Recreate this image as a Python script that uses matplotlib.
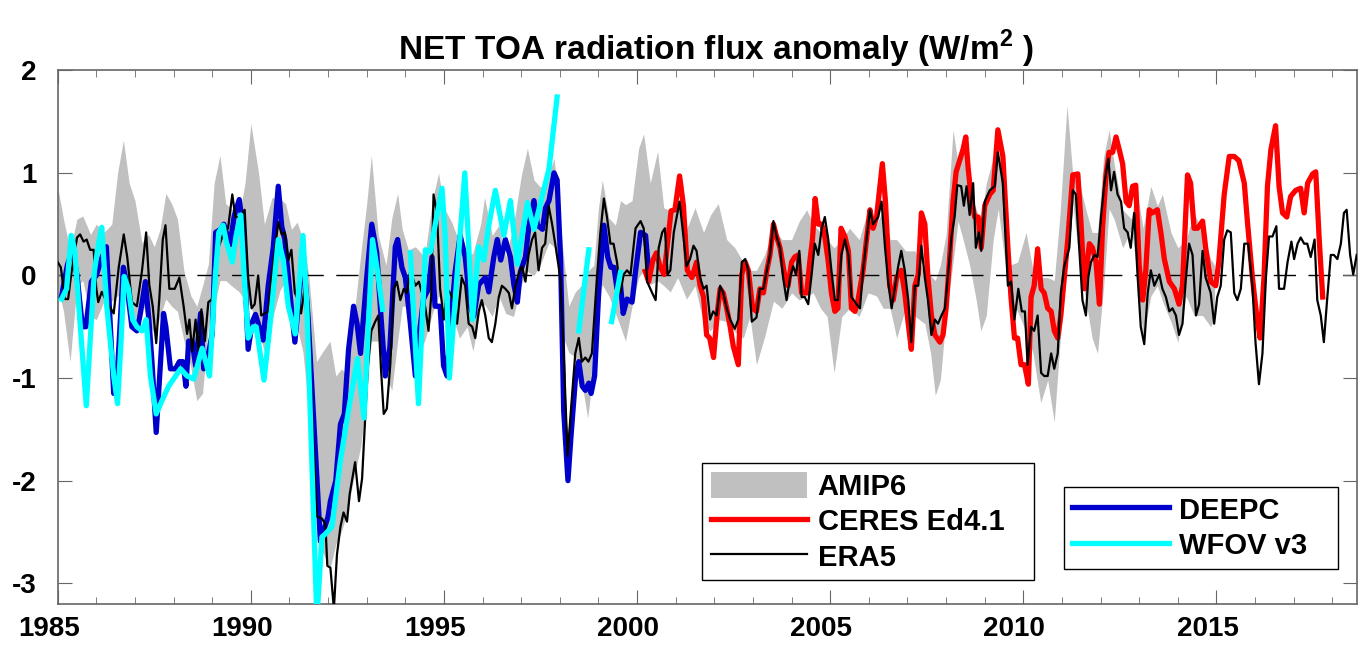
import numpy as np
import matplotlib
matplotlib.use("Agg")
import matplotlib.pyplot as plt
import matplotlib.transforms as mtransforms
from matplotlib.ticker import MultipleLocator

plt.rcParams['font.family'] = ['Liberation Sans', 'DejaVu Sans']
plt.rcParams['font.weight'] = 'bold'
plt.rcParams['axes.unicode_minus'] = False
plt.rcParams['mathtext.fontset'] = 'custom'
plt.rcParams['mathtext.bf'] = 'Liberation Sans:bold'
plt.rcParams['mathtext.rm'] = 'Liberation Sans:bold'

# ERA5 (black)
era5_t = [1985.0, 1985.08, 1985.19, 1985.27, 1985.36, 1985.5, 1985.58, 1985.67, 1985.75, 1985.84,
          1985.93, 1986.0, 1986.05, 1986.14, 1986.27, 1986.45, 1986.58, 1986.71, 1986.8, 1986.92,
          1987.05, 1987.18, 1987.29, 1987.37, 1987.46, 1987.55, 1987.63, 1987.72, 1987.79, 1987.89,
          1988.03, 1988.15, 1988.26, 1988.35, 1988.41, 1988.48, 1988.57, 1988.65, 1988.72, 1988.81,
          1988.9, 1989.0, 1989.09, 1989.17, 1989.3, 1989.41, 1989.52, 1989.6, 1989.72, 1989.84,
          1989.93, 1990.02, 1990.1, 1990.19, 1990.27, 1990.36, 1990.45, 1990.53, 1990.62, 1990.71,
          1990.8, 1990.88, 1990.97, 1991.05, 1991.14, 1991.22, 1991.3, 1991.39, 1991.48, 1991.58,
          1991.71, 1991.84, 1991.93, 1991.98, 1992.06, 1992.15, 1992.23, 1992.32, 1992.4, 1992.49,
          1992.56, 1992.7, 1992.8, 1992.88, 1992.96, 1993.03, 1993.12, 1993.22, 1993.3, 1993.37,
          1993.44, 1993.52, 1993.61, 1993.7, 1993.78, 1993.87, 1993.96, 1994.04, 1994.13, 1994.26,
          1994.35, 1994.43, 1994.52, 1994.6, 1994.67, 1994.73, 1994.82, 1994.9, 1995.0, 1995.08,
          1995.16, 1995.25, 1995.34, 1995.46, 1995.55, 1995.64, 1995.73, 1995.81, 1995.9, 1995.98,
          1996.07, 1996.16, 1996.24, 1996.33, 1996.42, 1996.5, 1996.59, 1996.68, 1996.76, 1996.85,
          1996.93, 1997.02, 1997.11, 1997.19, 1997.28, 1997.36, 1997.45, 1997.54, 1997.62, 1997.71,
          1997.8, 1997.88, 1998.01, 1998.1, 1998.2, 1998.31, 1998.4, 1998.49, 1998.57, 1998.66,
          1998.74, 1998.83, 1998.96, 1999.05, 1999.14, 1999.22, 1999.31, 1999.39, 1999.48, 1999.57,
          1999.65, 1999.74, 1999.83, 1999.96, 2000.09, 2000.17, 2000.26, 2000.39, 2000.48, 2000.56,
          2000.65, 2000.72, 2000.79, 2000.86, 2000.95, 2001.1, 2001.2, 2001.28, 2001.37, 2001.46,
          2001.54, 2001.63, 2001.72, 2001.8, 2001.89, 2001.97, 2002.06, 2002.15, 2002.23, 2002.32,
          2002.41, 2002.53, 2002.62, 2002.71, 2002.8, 2002.88, 2002.97, 2003.09, 2003.18, 2003.27,
          2003.36, 2003.44, 2003.53, 2003.61, 2003.7, 2003.78, 2003.87, 2003.96, 2004.04, 2004.11,
          2004.2, 2004.26, 2004.34, 2004.43, 2004.51, 2004.6, 2004.69, 2004.78, 2004.86, 2004.95,
          2005.03, 2005.12, 2005.2, 2005.29, 2005.38, 2005.47, 2005.55, 2005.68, 2005.77, 2005.85,
          2005.94, 2006.03, 2006.11, 2006.24, 2006.33, 2006.42, 2006.5, 2006.59, 2006.67, 2006.76,
          2006.84, 2006.93, 2007.02, 2007.1, 2007.19, 2007.28, 2007.36, 2007.45, 2007.53, 2007.62,
          2007.71, 2007.79, 2007.88, 2007.97, 2008.05, 2008.14, 2008.22, 2008.29, 2008.39, 2008.46,
          2008.53, 2008.61, 2008.7, 2008.77, 2008.85, 2008.91, 2009.0, 2009.13, 2009.26, 2009.34,
          2009.47, 2009.6, 2009.68, 2009.77, 2009.87, 2009.96, 2010.04, 2010.11, 2010.2, 2010.28,
          2010.37, 2010.46, 2010.54, 2010.63, 2010.72, 2010.8, 2010.89, 2010.97, 2011.06, 2011.19,
          2011.28, 2011.36, 2011.45, 2011.53, 2011.62, 2011.68, 2011.75, 2011.84, 2011.92, 2012.01,
          2012.1, 2012.2, 2012.27, 2012.35, 2012.44, 2012.53, 2012.61, 2012.7, 2012.78, 2012.87,
          2012.96, 2013.04, 2013.13, 2013.22, 2013.3, 2013.39, 2013.52, 2013.6, 2013.69, 2013.78,
          2013.86, 2013.95, 2014.03, 2014.12, 2014.21, 2014.29, 2014.38, 2014.47, 2014.55, 2014.64,
          2014.72, 2014.85, 2014.94, 2015.02, 2015.11, 2015.2, 2015.28, 2015.37, 2015.46, 2015.54,
          2015.63, 2015.72, 2015.82, 2015.93, 2016.01, 2016.1, 2016.19, 2016.28, 2016.36, 2016.45,
          2016.55, 2016.62, 2016.75, 2016.84, 2016.94, 2017.01, 2017.1, 2017.18, 2017.27, 2017.35,
          2017.44, 2017.54, 2017.61, 2017.7, 2017.78, 2017.87, 2017.96, 2018.04, 2018.13, 2018.22,
          2018.3, 2018.37, 2018.46, 2018.54, 2018.63]
era5_v = [0.13, 0.08, -0.23, -0.23, 0.04, 0.37, 0.40, 0.33, 0.35, 0.25,
          0.25, -0.13, -0.26, -0.16, -0.26, -0.37, 0.08, 0.40, 0.18, -0.26,
          -0.30, 0.04, 0.42, -0.09, -0.30, -0.66, -0.23, 0.35, 0.49, -0.13,
          -0.13, -0.02, -0.30, -0.57, -0.43, -0.74, -0.43, -0.74, -0.33, -0.64,
          -0.26, -0.23, 0.04, 0.28, 0.42, 0.46, 0.79, 0.57, 0.57, 0.64,
          -0.02, -0.32, -0.28, 0.0, -0.39, -0.37, -0.35, -0.02, 0.24, 0.52,
          0.40, 0.42, 0.15, 0.25, -0.17, -0.24, -0.37, -0.13, -0.24, -1.3,
          -2.35, -2.37, -2.42, -2.83, -2.85, -3.25, -2.72, -2.45, -2.31, -2.40,
          -2.13, -1.82, -2.20, -1.98, -1.39, -0.88, -0.54, -0.45, -0.39, -0.91,
          -1.35, -1.30, -0.87, -0.13, -0.06, -0.24, -0.13, -0.17, 0.05, -0.10,
          -0.06, -0.17, -0.32, -0.54, -0.20, 0.79, 0.61, -0.13, -0.43, -0.13,
          -0.17, -0.24, -0.47, -0.02, -0.10, -0.47, -0.50, -0.61, -0.35, -0.24,
          -0.39, -0.61, -0.65, -0.47, -0.21, -0.10, -0.13, -0.17, -0.32, -0.10,
          0.01, 0.09, -0.06, 0.20, 0.35, 0.42, 0.05, 0.27, 0.31, 0.68,
          0.50, 0.31, -0.02, -0.76, -1.76, -1.20, -0.76, -0.61, -0.84, -0.80,
          -0.84, -0.76, -0.02, 0.42, 0.75, 0.57, 0.31, 0.31, 0.13, -0.17,
          0.01, 0.05, 0.01, 0.46, 0.53, 0.46, -0.06, -0.17, -0.24, 0.27,
          0.42, 0.46, 0.01, 0.05, 0.42, 0.72, 0.38, 0.09, 0.16, 0.29,
          0.24, -0.02, -0.13, -0.10, -0.43, -0.35, -0.39, -0.10, -0.17, -0.32,
          -0.43, -0.52, -0.43, 0.13, 0.16, 0.05, -0.45, -0.41, -0.13, -0.13,
          0.05, 0.20, 0.53, 0.38, 0.27, -0.02, -0.24, -0.02, 0.09, 0.01,
          0.24, -0.21, -0.21, -0.28, -0.02, 0.31, 0.20, 0.46, 0.57, 0.35,
          0.05, -0.24, -0.24, 0.20, 0.35, 0.20, -0.21, -0.28, -0.32, 0.05,
          0.35, 0.64, 0.50, 0.57, 0.72, 0.27, -0.06, -0.32, -0.13, 0.09,
          0.24, 0.05, -0.24, -0.65, -0.10, -0.10, 0.29, -0.02, -0.24, -0.58,
          -0.43, -0.47, -0.39, -0.32, 0.01, 0.38, 0.57, 0.88, 0.87, 0.68,
          0.87, 0.59, 0.90, 0.27, 0.42, 0.24, 0.72, 0.83, 0.87, 1.20,
          0.90, -0.10, -0.06, -0.43, -0.13, -0.35, -0.35, -0.87, -0.50, -0.54,
          -0.39, -0.95, -0.98, -0.98, -0.76, -0.91, -0.76, -0.17, 0.09, 0.27,
          0.83, 0.79, 0.24, -0.24, -0.39, -0.02, 0.13, 0.20, 0.18, 0.57,
          0.90, 1.14, 0.83, 1.01, 0.79, 0.72, 0.46, 0.42, 0.27, 0.61,
          -0.02, -0.50, -0.67, -0.17, 0.05, -0.10, 0.01, -0.13, -0.21, -0.35,
          -0.32, -0.39, -0.58, -0.47, -0.02, 0.31, 0.20, -0.39, -0.28, 0.24,
          -0.02, -0.17, -0.47, -0.21, -0.10, 0.35, 0.44, 0.42, -0.17, -0.24,
          -0.13, 0.31, 0.31, -0.10, -0.65, -1.06, -0.76, -0.02, 0.38, 0.38,
          0.48, -0.13, -0.13, 0.13, 0.33, 0.16, 0.31, 0.37, 0.31, 0.31,
          0.18, 0.35, -0.24, -0.39, -0.65, -0.21, 0.20, 0.20, 0.16, 0.31,
          0.61, 0.64, 0.20, 0.01, 0.20]

# CERES Ed4.1 (red)
ceres_t = [2000.21, 2000.3, 2000.41, 2000.5, 2000.6, 2000.7, 2000.88, 2000.98, 2001.1, 2001.2,
           2001.3, 2001.42, 2001.54, 2001.63, 2001.72, 2001.8, 2001.88, 2001.98, 2002.07, 2002.15,
           2002.23, 2002.32, 2002.41, 2002.49, 2002.62, 2002.71, 2002.8, 2002.88, 2002.99, 2003.09,
           2003.18, 2003.27, 2003.36, 2003.44, 2003.53, 2003.61, 2003.7, 2003.83, 2003.91, 2004.0,
           2004.08, 2004.17, 2004.26, 2004.39, 2004.47, 2004.54, 2004.61, 2004.69, 2004.78, 2004.86,
           2004.95, 2005.03, 2005.12, 2005.2, 2005.28, 2005.38, 2005.47, 2005.55, 2005.64, 2005.72,
           2005.85, 2005.94, 2006.03, 2006.11, 2006.2, 2006.35, 2006.43, 2006.54, 2006.63, 2006.72,
           2006.84, 2006.93, 2007.02, 2007.1, 2007.19, 2007.28, 2007.36, 2007.45, 2007.53, 2007.62,
           2007.71, 2007.84, 2007.92, 2008.0, 2008.09, 2008.18, 2008.26, 2008.35, 2008.44, 2008.51,
           2008.57, 2008.66, 2008.74, 2008.83, 2008.91, 2009.0, 2009.13, 2009.22, 2009.34, 2009.47,
           2009.6, 2009.68, 2009.77, 2009.85, 2009.94, 2010.03, 2010.13, 2010.2, 2010.28, 2010.37,
           2010.46, 2010.54, 2010.63, 2010.72, 2010.8, 2010.89, 2010.97, 2011.06, 2011.15, 2011.28,
           2011.41, 2011.49, 2011.58, 2011.71, 2011.79, 2011.88, 2011.97, 2012.05, 2012.14, 2012.22,
           2012.31, 2012.4, 2012.48, 2012.57, 2012.66, 2012.74, 2012.83, 2012.91, 2013.0, 2013.09,
           2013.17, 2013.26, 2013.34, 2013.47, 2013.56, 2013.65, 2013.78, 2013.91, 2014.03, 2014.12,
           2014.25, 2014.33, 2014.42, 2014.51, 2014.64, 2014.72, 2014.85, 2014.98, 2015.06, 2015.2,
           2015.33, 2015.46, 2015.58, 2015.72, 2015.8, 2015.93, 2016.04, 2016.13, 2016.23, 2016.32,
           2016.41, 2016.53, 2016.62, 2016.71, 2016.82, 2016.92, 2017.05, 2017.18, 2017.27, 2017.36,
           2017.49, 2017.57, 2017.66, 2017.75]
ceres_v = [0.04, -0.06, 0.15, 0.22, 0.08, 0.01, 0.63, 0.64, 0.97, 0.68,
           0.05, -0.02, 0.13, -0.10, -0.21, -0.58, -0.61, -0.80, -0.39, -0.13,
           -0.17, -0.32, -0.50, -0.69, -0.87, 0.01, 0.13, 0.05, -0.32, -0.35,
           -0.13, -0.17, 0.05, 0.20, 0.50, 0.38, 0.27, -0.02, -0.10, 0.13,
           0.18, 0.20, -0.17, -0.17, 0.13, 0.35, 0.75, 0.50, 0.50, 0.38,
           0.13, -0.17, -0.35, -0.32, 0.46, 0.38, 0.24, -0.32, -0.35, -0.24,
           0.05, 0.35, 0.64, 0.46, 0.57, 1.09, 0.72, -0.10, -0.24, -0.02,
           0.05, -0.17, -0.47, -0.72, -0.10, 0.01, 0.61, 0.50, -0.02, -0.39,
           -0.58, -0.65, -0.58, -0.32, 0.16, 0.72, 1.01, 1.12, 1.23, 1.35,
           1.05, 0.72, 0.57, 0.57, 0.27, 0.68, 0.79, 0.83, 1.42, 1.16,
           0.27, -0.21, -0.61, -0.61, -0.87, -0.87, -1.06, -0.21, -0.10, 0.26,
           -0.13, -0.17, -0.32, -0.35, -0.54, -0.61, -0.39, -0.02, 0.35, 0.98,
           0.99, 0.53, -0.13, 0.31, 0.27, 0.13, -0.28, 0.46, 0.98, 1.20,
           1.20, 1.35, 1.23, 1.09, 0.72, 0.68, 0.87, 0.88, 0.09, -0.24,
           0.05, 0.64, 0.61, 0.64, 0.42, 0.16, -0.06, -0.13, -0.28, -0.10,
           0.98, 0.90, 0.46, 0.46, 0.53, 0.27, -0.06, -0.10, 0.13, 0.79,
           1.16, 1.16, 1.12, 0.90, 0.53, -0.02, -0.39, -0.61, -0.02, 0.87,
           1.23, 1.46, 0.87, 0.61, 0.57, 0.77, 0.83, 0.85, 0.61, 0.90,
           0.99, 1.01, 0.35, -0.21]

# DEEPC (blue)
deepc_t = [1985.1, 1985.25, 1985.38, 1985.5, 1985.64, 1985.73, 1985.87, 1986.0, 1986.12, 1986.26,
           1986.45, 1986.53, 1986.7, 1986.79, 1986.92, 1987.05, 1987.14, 1987.27, 1987.36, 1987.44,
           1987.55, 1987.64, 1987.74, 1987.8, 1987.92, 1988.05, 1988.15, 1988.24, 1988.32, 1988.39,
           1988.48, 1988.57, 1988.7, 1988.78, 1988.9, 1989.0, 1989.09, 1989.22, 1989.3, 1989.46,
           1989.57, 1989.7, 1989.8, 1989.93, 1990.04, 1990.12, 1990.2, 1990.32, 1990.45, 1990.58,
           1990.71, 1990.8, 1990.88, 1991.02, 1991.14, 1991.25, 1991.35, 1991.48, 1991.8, 1992.0,
           1992.06, 1992.2, 1992.32, 1992.42, 1992.53, 1992.66, 1992.75, 1992.84, 1993.0, 1993.13,
           1993.26, 1993.36, 1993.48, 1993.6, 1993.74, 1993.8, 1993.91, 1994.0, 1994.13, 1994.26,
           1994.34, 1994.47, 1994.6, 1994.69, 1994.77, 1994.9, 1994.99, 1995.08, 1995.2, 1995.29,
           1995.42, 1995.55, 1995.68, 1995.77, 1995.9, 1996.07, 1996.16, 1996.29, 1996.38, 1996.47,
           1996.59, 1996.72, 1996.81, 1996.9, 1996.98, 1997.11, 1997.2, 1997.33, 1997.42, 1997.55,
           1997.63, 1997.72, 1997.85, 1997.93, 1998.02, 1998.1, 1998.21, 1998.29, 1998.41, 1998.49,
           1998.58, 1998.66, 1998.75, 1998.81, 1998.9, 1999.01, 1999.14, 1999.24, 1999.32, 1999.4,
           1999.48, 1999.57, 1999.64, 1999.74, 1999.87, 1999.96, 2000.09, 2000.22, 2000.3]
deepc_v = [-0.20, 0.10, 0.25, 0.0, -0.50, -0.50, -0.06, 0.0, 0.15, 0.28,
           -1.15, -1.05, 0.08, -0.09, -0.50, -0.54, -0.37, -0.06, -0.43, -0.84,
           -1.53, -0.98, -0.37, -0.50, -0.91, -0.91, -0.84, -0.84, -1.08, -0.64,
           -0.64, -0.88, -0.37, -0.91, -0.77, -0.57, 0.42, 0.45, 0.50, 0.30,
           0.58, 0.74, 0.46, -0.72, -0.45, -0.38, -0.48, -0.63, -0.10, 0.27,
           0.87, 0.48, 0.35, -0.20, -0.65, -0.20, 0.24, -0.40, -2.59, -2.35,
           -2.20, -2.00, -1.45, -1.35, -0.72, -0.30, -0.47, -0.76, -0.02, 0.50,
           0.22, -0.35, -0.98, -0.70, 0.28, 0.35, 0.08, -0.02, -0.47, -0.98,
           -0.64, -0.23, -0.13, 0.18, -0.30, -0.30, -0.88, -0.98, -0.35, 0.04,
           0.39, 0.18, -0.30, -0.40, -0.09, -0.02, -0.16, 0.18, 0.35, 0.15,
           0.35, 0.18, -0.09, -0.26, 0.04, 0.18, 0.49, 0.73, 0.49, 0.45,
           0.66, 0.73, 1.0, 0.93, 0.15, -1.32, -2.0, -1.56, -0.98, -0.84,
           -1.08, -1.12, -1.05, -1.15, -0.98, -0.13, 0.49, 0.18, 0.08, 0.08,
           -0.13, -0.09, -0.37, -0.23, -0.26, 0.04, 0.42, 0.39, 0.04]

# WFOV v3 (cyan), gaps as nan
wfov_t = [1985.1, 1985.23, 1985.35, 1985.44, 1985.58, 1985.74, 1985.84, 1985.95, 1986.06, 1986.14,
          1986.27, 1986.45, 1986.55, 1986.64, 1986.72, 1986.83, 1986.94, 1987.05, 1987.18, 1987.29,
          1987.4, 1987.55, 1987.7, 1987.87, 1988.18, 1988.35, 1988.52, 1988.74, 1988.93, 1989.09,
          1989.17, 1989.28, 1989.37, 1989.52, 1989.62, 1989.74, 1989.82, 1989.93, 1990.06, 1990.14,
          1990.34, 1990.5, 1990.71, 1990.84, 1990.97, 1991.15, 1991.35, 1991.45, 1991.71, 1991.84,
          1991.93, 1992.1, 1992.32, 1992.54, 1992.76, 1992.93, 1993.15, 1993.28, 1993.41, 1993.7,
          1994.13, 1994.34, 1994.52, 1994.65, 1994.77, 1994.95, 1995.03, 1995.14, 1995.34, 1995.54,
          1995.74, 1995.9, 1996.03, 1996.16, 1996.33, 1996.55, 1996.72, 1996.9, 1997.16, 1997.33,
          1997.72, 1997.93, 1998.2,
          1998.49, 1998.75, 1999.0,
          1999.34, 1999.57]
wfov_v = [-0.23, -0.13, 0.39, 0.25, -0.47, -1.27, -0.64, 0.04, 0.32, 0.47,
          -0.30, -0.98, -1.25, -0.64, -0.01, -0.13, -0.43, -0.50, -0.54, -0.43,
          -0.98, -1.35, -1.22, -1.08, -0.91, -0.98, -1.01, -0.71, -0.98, 0.04,
          0.42, 0.49, 0.32, 0.13, 0.39, 0.59, 0.04, -0.61, -0.50, -0.50,
          -1.02, -0.47, 0.35, 0.15, -0.30, -0.57, 0.39, -0.30, -3.35, -2.55,
          -2.52, -2.45, -1.80, -1.29, -0.81, -1.39, 0.35, 0.04, -0.33, np.nan,
          0.22, -1.25, 0.25, 0.23, 0.49, 0.85, 0.39, -1.0, 0.01, 1.0,
          -0.43, 0.28, 0.15, 0.49, 0.83, 0.39, 0.73, 0.11, 0.71, 0.45,
          1.04, 1.74, np.nan,
          -0.54, 0.25, np.nan,
          -0.45, 0.03]

# AMIP6 ensemble range (grey band)
amip_t = [1985.0, 1985.15, 1985.32, 1985.5, 1985.65, 1985.85, 1986.0, 1986.2, 1986.4, 1986.55,
          1986.7, 1986.85, 1987.0, 1987.18, 1987.35, 1987.5, 1987.65, 1987.8, 1987.95, 1988.1,
          1988.27, 1988.45, 1988.6, 1988.75, 1988.9, 1989.05, 1989.2, 1989.35, 1989.5, 1989.7,
          1989.85, 1990.0, 1990.2, 1990.35, 1990.55, 1990.75, 1990.9, 1991.05, 1991.2, 1991.35,
          1991.5, 1991.7, 1991.85, 1992.05, 1992.2, 1992.35, 1992.5, 1992.65, 1992.85, 1993.0,
          1993.12, 1993.3, 1993.5, 1993.65, 1993.8, 1993.92, 1994.08, 1994.26, 1994.5, 1994.7,
          1994.86, 1995.0, 1995.2, 1995.4, 1995.6, 1995.75, 1995.95, 1996.05, 1996.25, 1996.42,
          1996.6, 1996.8, 1997.0, 1997.16, 1997.33, 1997.5, 1997.72, 1997.85, 1997.95, 1998.06,
          1998.23, 1998.4, 1998.55, 1998.72, 1998.88, 1999.0, 1999.1, 1999.27, 1999.44, 1999.57,
          1999.7, 1999.87, 2000.04, 2000.17, 2000.34, 2000.53, 2000.69, 2000.86, 2001.05, 2001.28,
          2001.5, 2001.72, 2001.9, 2002.1, 2002.32, 2002.53, 2002.75, 2002.92, 2003.09, 2003.3,
          2003.53, 2003.75, 2004.0, 2004.2, 2004.39, 2004.56, 2004.75, 2004.92, 2005.1, 2005.3,
          2005.5, 2005.75, 2005.98, 2006.2, 2006.37, 2006.55, 2006.72, 2006.95, 2007.2, 2007.45,
          2007.6, 2007.72, 2007.85, 2008.0, 2008.18, 2008.31, 2008.44, 2008.61, 2008.78, 2008.9,
          2009.04, 2009.22, 2009.35, 2009.5, 2009.65, 2009.85, 2010.07, 2010.25, 2010.45, 2010.63,
          2010.8, 2010.95, 2011.13, 2011.28, 2011.45, 2011.62, 2011.78, 2011.92, 2012.08, 2012.22,
          2012.35, 2012.57, 2012.8, 2012.92, 2013.1, 2013.3, 2013.47, 2013.6, 2013.82, 2014.0,
          2014.21, 2014.42, 2014.64, 2014.85, 2014.95]
amip_hi = [0.86, 0.55, 0.25, 0.55, 0.58, 0.40, 0.50, 0.42, 0.50, 1.0,
           1.32, 0.90, 0.73, 0.32, 0.40, 0.28, 0.45, 0.80, 0.70, 0.55,
           0.04, -0.20, -0.30, -0.10, 0.11, 0.90, 1.17, 0.70, 0.65, 0.59,
           0.90, 1.48, 1.0, 0.50, 0.76, 0.75, 0.70, 0.45, 0.52, 0.35,
           0.0, -0.84, -0.75, -0.64, -0.98, -0.91, -0.98, -0.47, 0.22, 0.70,
           1.17, 0.39, 0.10, 0.56, 0.80, 0.45, 0.25, 0.28, 0.18, 0.73,
           1.0, 0.66, 0.52, 0.32, 0.18, 0.22, 0.50, 0.76, 0.39, 0.49,
           0.18, 0.49, 0.97, 1.24, 0.93, 0.86, 1.0, 1.14, 0.80, 0.32,
           -0.30, -0.16, -0.10, 0.04, 0.10, 0.66, 0.93, 0.56, 0.49, 0.73,
           0.69, 0.73, 1.24, 1.38, 0.90, 1.21, 0.66, 0.63, 0.70, 0.45,
           0.66, 0.42, 0.59, 0.70, 0.35, 0.27, 0.13, 0.05, 0.05, 0.20,
           0.46, 0.35, 0.35, 0.53, 0.64, 0.50, 0.42, 0.35, 0.27, 0.35,
           0.46, 0.35, 0.64, 0.50, 0.64, 0.35, 0.35, 0.24, 0.24, 0.0,
           0.0, -0.05, 0.10, 0.40, 1.42, 1.09, 1.38, 0.87, 0.64, 0.53,
           0.90, 1.15, 1.10, 0.85, 0.10, 0.13, 0.42, 0.05, -0.02, -0.02,
           -0.05, 0.60, 1.66, 0.98, 0.90, 0.64, 0.42, 0.42, 1.16, 1.42,
           1.09, 0.64, 0.55, 0.87, 0.46, 0.87, 0.68, 0.79, 0.42, 0.27,
           0.35, 0.61, 0.42, 0.16, 0.10]
amip_lo = [-0.10, -0.35, -0.84, -0.10, -0.05, -0.40, -0.43, -0.25, -0.25, -0.20,
           -0.15, -0.30, -0.43, -0.26, -0.45, -0.57, -0.40, -0.23, -0.30, -0.35,
           -0.64, -0.90, -1.22, -1.15, -0.50, -0.30, -0.05, -0.05, -0.10, -0.16,
           -0.25, -0.30, -0.55, -0.74, -0.43, -0.15, -0.05, -0.20, -0.50, -0.75,
           -1.32, -2.35, -2.69, -2.86, -2.62, -2.49, -2.30, -2.0, -1.66, -1.15,
           -0.64, -0.64, -0.98, -1.12, -0.64, -0.30, -0.30, -0.81, -0.64, -0.37,
           -0.20, -0.30, -0.37, -0.61, -0.50, -0.74, -0.30, -0.28, -0.40, -0.20,
           -0.37, -0.40, -0.09, 0.04, 0.0, 0.11, 0.32, 0.28, 0.10, -0.57,
           -0.75, -0.80, -1.0, -1.39, -0.90, -0.30, -0.09, -0.20, -0.37, -0.50,
           -0.64, -0.30, -0.02, 0.05, -0.09, -0.05, -0.10, -0.16, -0.02, -0.23,
           -0.10, -0.47, -0.54, -0.43, -0.45, -0.55, -0.61, -0.40, -0.87, -0.60,
           -0.25, -0.32, -0.17, -0.24, -0.20, -0.17, -0.32, -0.40, -0.95, -0.40,
           -0.32, -0.40, -0.17, -0.20, -0.32, -0.32, -0.61, -0.32, -0.40, -0.47,
           -0.76, -1.17, -1.02, -0.40, 0.13, 0.53, 0.35, 0.10, -0.24, -0.54,
           -0.39, 0.35, 0.65, 0.20, -0.24, -0.35, -0.55, -0.76, -1.24, -1.02,
           -1.43, -0.65, 0.10, 0.70, 0.13, -0.24, -0.61, -0.76, -0.10, 0.65,
           0.55, 0.27, 0.45, 0.10, -0.61, -0.20, -0.10, -0.25, -0.45, -0.65,
           -0.20, -0.39, -0.39, -0.50, -0.40]

fig = plt.figure(figsize=(13.61, 6.45), dpi=100)
ax = fig.add_axes([0.0424, 0.064, 0.955, 0.827])

ax.axhline(0, color='black', lw=1.0, dashes=(16, 9), zorder=1)
h_amip = ax.fill_between(amip_t, amip_lo, amip_hi, color='#c0c0c0', lw=0, zorder=0, label='AMIP6')
h_blue, = ax.plot(deepc_t, deepc_v, color='#0000cd', lw=3.8, zorder=3, label='DEEPC')
h_red, = ax.plot(ceres_t, ceres_v, color='#ff0000', lw=3.8, zorder=3, label='CERES Ed4.1')
h_black, = ax.plot(era5_t, era5_v, color='black', lw=1.6, zorder=4, label='ERA5')
h_cyan, = ax.plot(wfov_t, wfov_v, color='#00ffff', lw=3.8, zorder=5, label='WFOV v3')

ax.set_xlim(1985, 2018.65)
ax.set_ylim(-3.2, 2)
ax.xaxis.set_major_locator(MultipleLocator(5))
ax.xaxis.set_minor_locator(MultipleLocator(1))
ax.yaxis.set_major_locator(MultipleLocator(1))
ax.tick_params(axis='both', which='both', direction='in', top=True, right=True,
               color='#666666', labelsize=20)
ax.tick_params(axis='x', which='major', length=10, pad=9)
ax.tick_params(axis='x', which='minor', length=5)
ax.tick_params(axis='y', which='major', length=10, pad=15)
for lbl in ax.get_xticklabels() + ax.get_yticklabels():
    lbl.set_fontweight('bold')
# x labels sit a little left of their ticks in the original
shift = mtransforms.ScaledTranslation(-9 / 100, 0, fig.dpi_scale_trans)
for lbl in ax.get_xticklabels():
    lbl.set_transform(lbl.get_transform() + shift)
for sp in ax.spines.values():
    sp.set_color('#666666')
    sp.set_linewidth(1.2)

ax.set_title('NET TOA radiation flux anomaly (W/m$^\\mathbf{2}$ )', fontsize=24,
             fontweight='bold', pad=6, x=0.506)

leg_kw = dict(frameon=True, fancybox=False, edgecolor='black', framealpha=1,
              prop=dict(weight='bold', size=21), handlelength=3.3, handleheight=1.0,
              labelspacing=0.22, handletextpad=0.35, borderpad=0.3, borderaxespad=0,
              mode='expand')
leg1 = ax.legend([h_amip, h_red, h_black], ['AMIP6', 'CERES Ed4.1', 'ERA5'],
                 loc='upper left', bbox_to_anchor=(0.496, 0.0, 0.255, 0.264), **leg_kw)
leg1.get_frame().set_linewidth(1.0)
ax.add_artist(leg1)
leg2 = ax.legend([h_blue, h_cyan], ['DEEPC', 'WFOV v3'],
                 loc='upper left', bbox_to_anchor=(0.774, 0.0, 0.211, 0.219), **leg_kw)
leg2.get_frame().set_linewidth(1.0)

fig.savefig('out.png', dpi=100)
